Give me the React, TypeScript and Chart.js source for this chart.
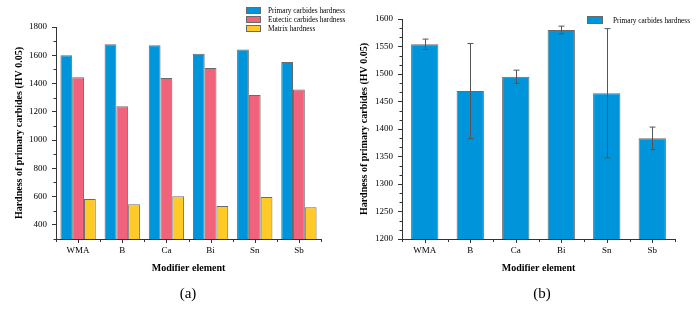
import React, { useEffect, useRef } from 'react';
import { Chart, registerables } from 'chart.js';

Chart.register(...registerables);

// ---------- data ----------
const categories = ['WMA', 'B', 'Ca', 'Bi', 'Sn', 'Sb'];

const primaryA = [1600, 1678, 1670, 1610, 1640, 1553];
const eutecticA = [1445, 1240, 1440, 1510, 1318, 1358];
const matrixA = [583, 545, 602, 533, 598, 525];
const yTicksA = [400, 600, 800, 1000, 1200, 1400, 1600, 1800];

const primaryB = [1554, 1469, 1495, 1580, 1465, 1383];
const primaryBErr = [9.5, 86.5, 12, 7, 117.5, 20.5];
const yTicksB = [1200, 1250, 1300, 1350, 1400, 1450, 1500, 1550, 1600];

const legendA = ['Primary carbides hardness', 'Eutectic carbides hardness', 'Matrix hardness'];
const legendB = ['Primary carbides hardness'];

// ---------- styles ----------
const FONT = "'Liberation Serif', 'Times New Roman', serif";
const BLUE = '#0095DA';
const PINK = '#F0637A';
const YELLOW = '#FFCA28';
const BAR_BORDER = '#6a6a6a';
const AXIS = '#333333';

const minorTicksPlugin = {
  id: 'minorTicks',
  afterDraw(chart: any, _args: any, opts: any) {
    const { ctx, chartArea } = chart;
    const y = chart.scales.y;
    const x = chart.scales.x;
    ctx.save();
    ctx.strokeStyle = AXIS;
    ctx.lineWidth = 1;
    const n = Math.round((opts.max - opts.min) / opts.step);
    for (let i = 0; i <= n; i++) {
      const v = opts.min + i * opts.step;
      if (opts.majors.some((m: number) => Math.abs(m - v) < 1e-6)) continue;
      const py = Math.round(y.getPixelForValue(v)) + 0.5;
      ctx.beginPath();
      ctx.moveTo(chartArea.left - 2.5, py);
      ctx.lineTo(chartArea.left, py);
      ctx.stroke();
    }
    const count = chart.data.labels.length;
    const w = (chartArea.right - chartArea.left) / count;
    for (let i = 0; i <= count; i++) {
      const px = Math.round(chartArea.left + i * w) + 0.5;
      ctx.beginPath();
      ctx.moveTo(px, chartArea.bottom);
      ctx.lineTo(px, chartArea.bottom + 3);
      ctx.stroke();
    }
    for (let i = 0; i < count; i++) {
      const px = Math.round(x.getPixelForValue(i)) + 0.5;
      ctx.beginPath();
      ctx.moveTo(px, chartArea.bottom);
      ctx.lineTo(px, chartArea.bottom + 4);
      ctx.stroke();
    }
    ctx.restore();
  },
};

const errorBarPlugin = {
  id: 'errorBars',
  afterDatasetsDraw(chart: any, _args: any, opts: any) {
    if (!opts || !opts.errors) return;
    const { ctx } = chart;
    const y = chart.scales.y;
    const meta = chart.getDatasetMeta(0);
    const values = chart.data.datasets[0].data;
    ctx.save();
    ctx.strokeStyle = '#555555';
    ctx.lineWidth = 1;
    meta.data.forEach((bar: any, i: number) => {
      const e = opts.errors[i];
      const v = values[i];
      const px = Math.round(bar.x) + 0.5;
      const top = y.getPixelForValue(v + e);
      const bot = y.getPixelForValue(v - e);
      ctx.beginPath();
      ctx.moveTo(px, top);
      ctx.lineTo(px, bot);
      ctx.moveTo(px - 3, top);
      ctx.lineTo(px + 3, top);
      ctx.moveTo(px - 3, bot);
      ctx.lineTo(px + 3, bot);
      ctx.stroke();
    });
    ctx.restore();
  },
};

function makeOptions(p: {
  min: number; max: number; ticks: number[]; padLeft: number; padTop: number; padRight: number;
  yWidth: number; xHeight: number; padBottom: number; minorStep: number; catPct: number; errors?: number[];
}) {
  return {
    responsive: false,
    animation: false as const,
    events: [] as any[],
    layout: { padding: { left: p.padLeft, top: p.padTop, right: p.padRight, bottom: p.padBottom } },
    datasets: { bar: { categoryPercentage: p.catPct, barPercentage: 1 } },
    plugins: {
      legend: { display: false },
      tooltip: { enabled: false },
      minorTicks: { min: p.min, max: p.max, step: p.minorStep, majors: p.ticks },
      errorBars: { errors: p.errors },
    },
    scales: {
      x: {
        offset: true,
        grid: { display: true, drawOnChartArea: false, drawTicks: false, offset: true, color: 'rgba(0,0,0,0)' },
        border: { display: true, color: AXIS, width: 1 },
        ticks: { color: '#000', font: { family: FONT, size: 9 }, padding: 6, maxRotation: 0 },
        title: {
          display: true, text: 'Modifier element', color: '#000',
          font: { family: FONT, size: 10, weight: 'bold' as const, lineHeight: 1.2 }, padding: 0,
        },
        afterFit: (s: any) => { s.height = p.xHeight; },
      },
      y: {
        min: p.min,
        max: p.max,
        afterBuildTicks: (s: any) => { s.ticks = p.ticks.map((v) => ({ value: v })); },
        grid: { drawOnChartArea: false, drawTicks: true, tickLength: 4, color: AXIS },
        border: { display: true, color: AXIS, width: 1 },
        ticks: { color: '#000', font: { family: FONT, size: 9 }, padding: 5, callback: (v: any) => String(v) },
        title: {
          display: true, text: 'Hardness of primary carbides (HV 0.05)', color: '#000',
          font: { family: FONT, size: 10, weight: 'bold' as const, lineHeight: 1.2 }, padding: 0,
        },
        afterFit: (s: any) => { s.width = p.yWidth; },
      },
    },
  };
}

function ChartA() {
  const ref = useRef<HTMLCanvasElement>(null);
  useEffect(() => {
    const chart = new Chart(ref.current as HTMLCanvasElement, {
      type: 'bar',
      data: {
        labels: categories,
        datasets: [
          { label: legendA[0], data: primaryA, backgroundColor: BLUE, borderColor: BAR_BORDER, borderWidth: 1 },
          { label: legendA[1], data: eutecticA, backgroundColor: PINK, borderColor: BAR_BORDER, borderWidth: 1 },
          { label: legendA[2], data: matrixA, backgroundColor: YELLOW, borderColor: BAR_BORDER, borderWidth: 1 },
        ],
      },
      options: makeOptions({
        min: 300, max: 1800, ticks: yTicksA, padLeft: 13, padTop: 27, padRight: 29, padBottom: 38,
        yWidth: 43, xHeight: 35, minorStep: 100, catPct: 0.8,
      }) as any,
      plugins: [minorTicksPlugin],
    });
    return () => chart.destroy();
  }, []);
  return <canvas ref={ref} width={350} height={312} style={{ position: 'absolute', left: 0, top: 0 }} />;
}

function ChartB() {
  const ref = useRef<HTMLCanvasElement>(null);
  useEffect(() => {
    const chart = new Chart(ref.current as HTMLCanvasElement, {
      type: 'bar',
      data: {
        labels: categories,
        datasets: [
          { label: legendB[0], data: primaryB, backgroundColor: BLUE, borderColor: BAR_BORDER, borderWidth: 1 },
        ],
      },
      options: makeOptions({
        min: 1200, max: 1600, ticks: yTicksB, padLeft: 8, padTop: 19, padRight: 25, padBottom: 38,
        yWidth: 44, xHeight: 35, minorStep: 50 / 3, catPct: 0.6, errors: primaryBErr,
      }) as any,
      plugins: [minorTicksPlugin, errorBarPlugin],
    });
    return () => chart.destroy();
  }, []);
  return <canvas ref={ref} width={350} height={312} style={{ position: 'absolute', left: 350, top: 0 }} />;
}

const legendText: React.CSSProperties = {
  position: 'absolute', fontFamily: FONT, fontSize: 7.3, color: '#000', whiteSpace: 'nowrap', lineHeight: '9px',
};

function LegendItem({ x, y, w, h, color, text, tx }: any) {
  return (
    <>
      <div style={{
        position: 'absolute', left: x, top: y, width: w, height: h, background: color,
        border: `1px solid ${BAR_BORDER}`, boxSizing: 'border-box',
      }} />
      <div style={{ ...legendText, left: tx, top: y + h / 2 - 4.5 }}>{text}</div>
    </>
  );
}

export default function App() {
  const colorsA = [BLUE, PINK, YELLOW];
  return (
    <div style={{ position: 'absolute', left: 0, top: 0, width: 700, height: 312, background: '#fff', overflow: 'hidden' }}>
      <ChartA />
      <ChartB />
      {legendA.map((t, i) => (
        <LegendItem key={t} x={246} y={7 + i * 9} w={15} h={7} color={colorsA[i]} text={t} tx={268} />
      ))}
      {legendB.map((t) => (
        <LegendItem key={t} x={587} y={16} w={16} h={8} color={BLUE} text={t} tx={613} />
      ))}
      <div style={{ position: 'absolute', left: 188, top: 293, transform: 'translate(-50%, -50%)', fontFamily: FONT, fontSize: 15, color: '#000' }}>(a)</div>
      <div style={{ position: 'absolute', left: 542, top: 293, transform: 'translate(-50%, -50%)', fontFamily: FONT, fontSize: 15, color: '#000' }}>(b)</div>
    </div>
  );
}
